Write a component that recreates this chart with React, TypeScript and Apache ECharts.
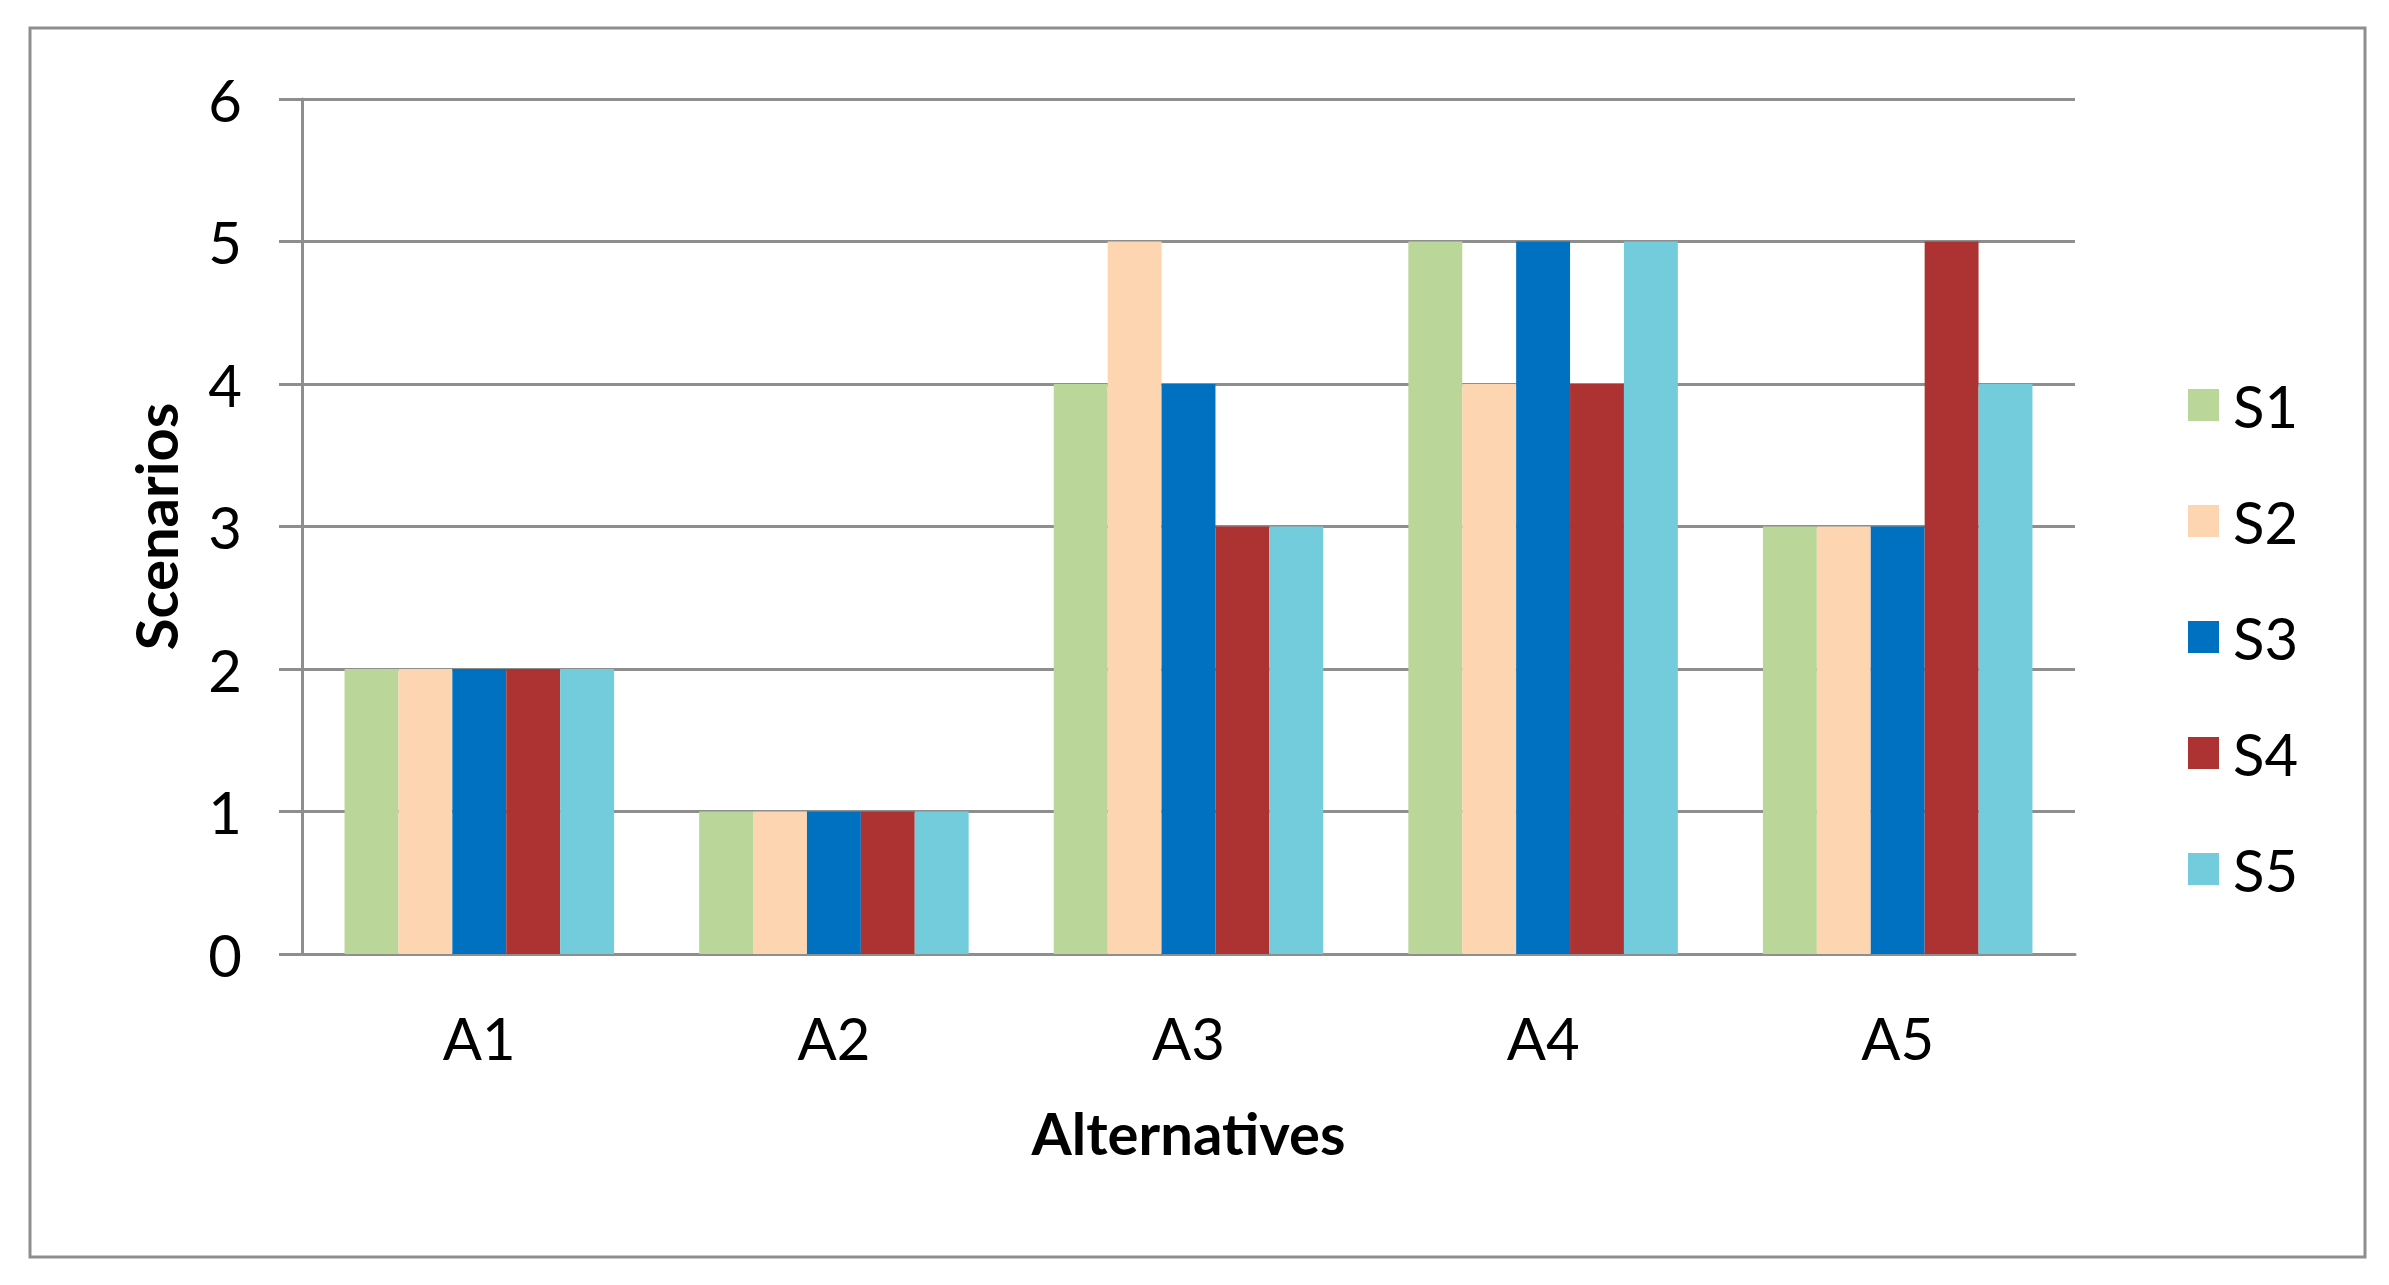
import React, { useEffect, useRef } from "react";
import * as echarts from "echarts";

const categories = ["A1", "A2", "A3", "A4", "A5"];
const seriesNames = ["S1", "S2", "S3", "S4", "S5"];
const s1 = [2, 1, 4, 5, 3];
const s2 = [2, 1, 5, 4, 3];
const s3 = [2, 1, 4, 5, 3];
const s4 = [2, 1, 3, 4, 5];
const s5 = [2, 1, 3, 5, 4];
const seriesValues = [s1, s2, s3, s4, s5];
const colors = ["#BAD698", "#FDD5B1", "#0070C0", "#AD3333", "#72CCDC"];
const yTicks = [0, 1, 2, 3, 4, 5, 6];
const xTitle = "Alternatives";
const yTitle = "Scenarios";

const FONT = "Lato";
const GRAY = "#8E8E8E";

export default function App() {
  const ref = useRef<HTMLDivElement>(null);
  useEffect(() => {
    if (!ref.current) return;
    const chart = echarts.init(ref.current, undefined, { renderer: "svg" });
    chart.setOption({
      animation: false,
      backgroundColor: "#ffffff",
      textStyle: { fontFamily: FONT },
      graphic: [
        {
          type: "rect",
          shape: { x: 30, y: 28, width: 2335, height: 1229 },
          style: { fill: "none", stroke: GRAY, lineWidth: 3 },
          silent: true,
        },
      ],
      grid: { left: 302, top: 99, right: 314, bottom: 331, containLabel: false },
      legend: {
        orient: "vertical",
        left: 2183,
        top: 371,
        itemWidth: 31,
        itemHeight: 32,
        itemGap: 58,
        icon: "rect",
        data: seriesNames,
        textStyle: {
          fontFamily: FONT,
          fontSize: 58,
          color: "#000",
          padding: [0, 0, 0, 9],
        },
      },
      xAxis: {
        type: "category",
        data: categories,
        name: xTitle,
        nameLocation: "middle",
        nameGap: 149,
        nameTextStyle: { fontFamily: FONT, fontSize: 58, fontWeight: "bold", color: "#000" },
        axisLine: { show: true, lineStyle: { color: GRAY, width: 3 } },
        axisTick: { show: false },
        axisLabel: { fontFamily: FONT, fontSize: 58, color: "#000", margin: 54 },
        splitLine: { show: false },
      },
      yAxis: {
        type: "value",
        min: yTicks[0],
        max: yTicks[yTicks.length - 1],
        interval: 1,
        name: yTitle,
        nameLocation: "middle",
        nameGap: 118,
        nameTextStyle: { fontFamily: FONT, fontSize: 58, fontWeight: "bold", color: "#000" },
        axisLine: { show: true, lineStyle: { color: GRAY, width: 3 } },
        axisTick: { show: true, length: 23, lineStyle: { color: GRAY, width: 3 } },
        axisLabel: { fontFamily: FONT, fontSize: 58, color: "#000", margin: 60 },
        splitLine: { show: true, lineStyle: { color: GRAY, width: 3 } },
      },
      series: seriesNames.map((name, i) => ({
        name,
        type: "bar",
        data: seriesValues[i],
        itemStyle: { color: colors[i] },
        barGap: "0%",
        barCategoryGap: "24%",
      })),
    });
    return () => chart.dispose();
  }, []);
  return (
    <div
      ref={ref}
      style={{ position: "fixed", left: 0, top: 0, width: "2389px", height: "1285px" }}
    />
  );
}
